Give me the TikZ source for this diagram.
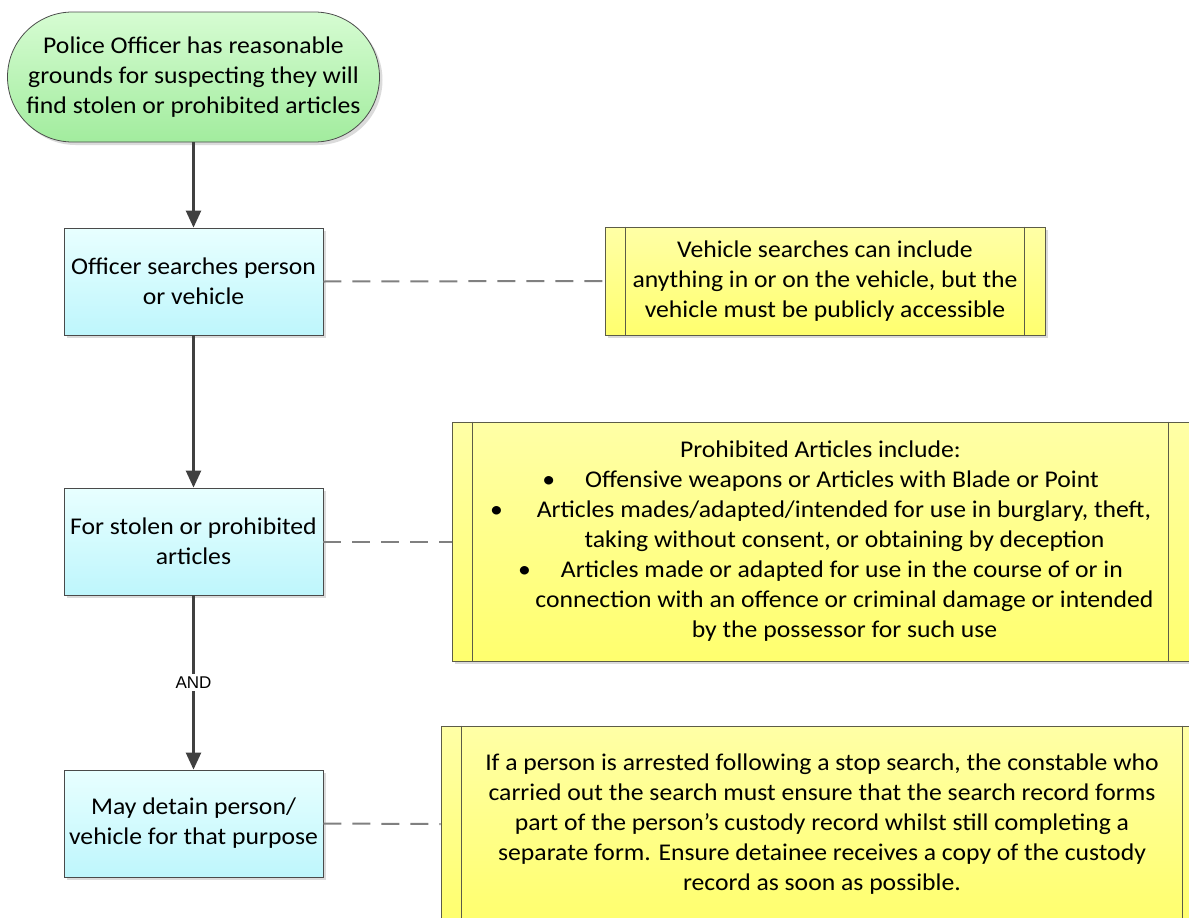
\documentclass[tikz,border=0pt]{standalone}
\usepackage{fontspec}
\setmainfont{Carlito}[FakeStretch=1.07]
\newfontfamily\labelfont{Liberation Sans}
\usetikzlibrary{arrows.meta,calc,shadows}

\definecolor{startTop}{HTML}{D6FCD2}
\definecolor{startBot}{HTML}{A2EC9E}
\definecolor{procTop}{HTML}{E8FFFF}
\definecolor{procBot}{HTML}{BEF6FC}
\definecolor{noteTop}{HTML}{FFFFA6}
\definecolor{noteBot}{HTML}{FFFF6E}
\definecolor{edgeGrey}{HTML}{4A4A4A}
\definecolor{noteEdge}{HTML}{5C5C48}
\definecolor{flowGrey}{HTML}{404040}
\definecolor{dashGrey}{HTML}{808080}

\tikzset{
  bodytext/.style={font=\fontsize{24}{30}\selectfont, align=center, text=black},
  softshadow/.style={drop shadow={shadow xshift=3pt, shadow yshift=-3pt, fill=black!14, opacity=1}},
  startbox/.style={bodytext, draw=edgeGrey, line width=0.8pt, rounded corners=65pt,
    top color=startTop, bottom color=startBot, minimum width=372pt, minimum height=130pt,
    inner sep=0pt, softshadow},
  procbox/.style={bodytext, draw=edgeGrey, line width=0.8pt,
    top color=procTop, bottom color=procBot, minimum width=259pt, minimum height=107pt,
    inner sep=0pt, softshadow},
  notebox/.style={bodytext, draw=noteEdge, line width=0.8pt,
    top color=noteTop, bottom color=noteBot, inner sep=0pt, softshadow},
  noteline/.style={draw=noteEdge, line width=0.8pt},
  flow/.style={draw=flowGrey, line width=2.4pt, -{Triangle[length=17pt,width=15pt]}},
  aside/.style={draw=dashGrey, line width=2pt, dash pattern=on 18pt off 11pt},
  andlabel/.style={font=\labelfont\fontsize{17}{20}\selectfont, fill=white, inner sep=3pt}
}

\begin{document}
\begin{tikzpicture}[x=1pt,y=-1pt]
\useasboundingbox (0,0) rectangle (1189,918);
\clip (0,0) rectangle (1189,918);

% main flow
\node[startbox] (start) at (193.5,77)
  {Police Officer has reasonable\\grounds for suspecting they will\\find stolen or prohibited articles};
\node[procbox] (search) at (193.5,281.5) {Officer searches person\\or vehicle};
\node[procbox] (stolen) at (193.5,541.5) {For stolen or prohibited\\articles};
\node[procbox] (detain) at (193.5,823.5) {May detain person/\\vehicle for that purpose};

% annotation boxes
\node[notebox, minimum width=440pt, minimum height=108pt] (vnote) at (825,281)
  {Vehicle searches can include\\anything in or on the vehicle, but the\\vehicle must be publicly accessible};
\node[notebox, minimum width=737pt, minimum height=239pt] (pnote) at (820.5,541.5)
  {Prohibited Articles include:\\
   \textbullet\hspace{30pt}Offensive weapons or Articles with Blade or Point\\
   \textbullet\hspace{34pt}Articles mades/adapted/intended for use in burglary, theft,\\
   \hspace{48pt}taking without consent, or obtaining by deception\\
   \textbullet\hspace{30pt}Articles made or adapted for use in the course of or in\\
   \hspace{48pt}connection with an offence or criminal damage or intended\\
   \hspace{48pt}by the possessor for such use};
\node[notebox, minimum width=762pt, minimum height=196pt] (anote) at (822,824)
  {If a person is arrested following a stop search, the constable who\\
   carried out the search must ensure that the search record forms\\
   part of the person’s custody record whilst still completing a\\
   separate form. Ensure detainee receives a copy of the custody\\
   record as soon as possible.};

% side bars of the annotation boxes
\foreach \n in {vnote,pnote,anote}{
  \draw[noteline] ($(\n.north west)+(21,0)$) -- ($(\n.south west)+(21,0)$);
  \draw[noteline] ($(\n.north east)+(-21,0)$) -- ($(\n.south east)+(-21,0)$);
}

% connectors
\draw[flow] (start.south) -- (search.north);
\draw[flow] (search.south) -- (stolen.north);
\draw[flow] (stolen.south) -- node[andlabel] (andtag) {AND} (detain.north);

\draw[aside] (search.east) -- (vnote.west);
\draw[aside] (stolen.east) -- (pnote.west);
\draw[aside] (detain.east) -- (anote.west);
\end{tikzpicture}
\end{document}
